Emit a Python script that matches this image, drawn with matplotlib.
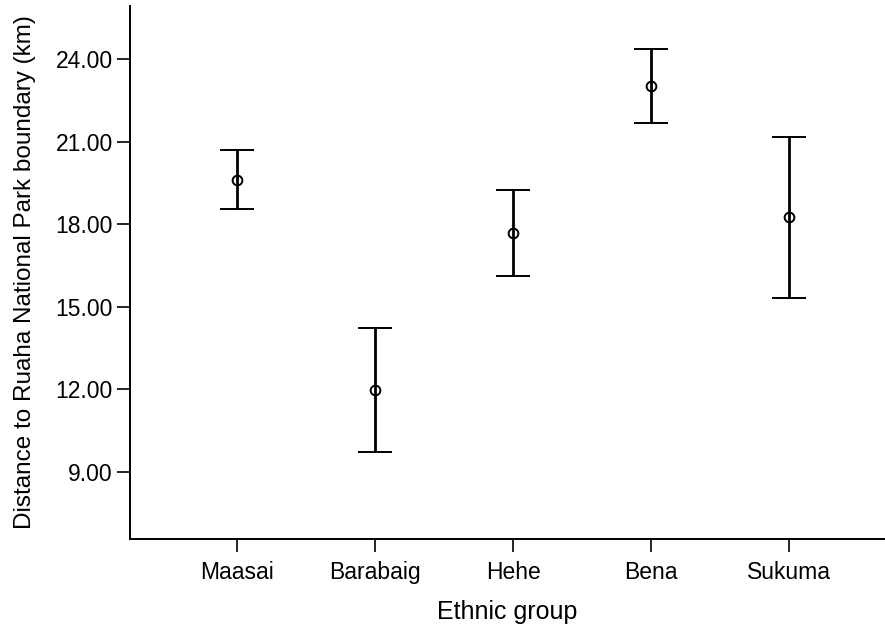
import numpy as np
import matplotlib.pyplot as plt

plt.rcParams['font.family'] = ['Liberation Sans', 'DejaVu Sans']

# group means with lower / upper interval limits (km)
groups = ['Maasai', 'Barabaig', 'Hehe', 'Bena', 'Sukuma']
means = [19.61, 11.96, 17.69, 23.03, 18.27]
lower = [18.56, 9.71, 16.12, 21.68, 15.33]
upper = [20.69, 14.22, 19.23, 24.39, 21.16]
yticks = [9, 12, 15, 18, 21, 24]

x = np.arange(1, len(groups) + 1)
means = np.array(means)
err = [means - np.array(lower), np.array(upper) - means]

fig = plt.figure(figsize=(8.85, 6.26), dpi=100)
ax = fig.add_axes([0.1469, 0.1385, 0.8531, 0.8524])

ax.errorbar(x, means, yerr=err, fmt='o', color='black', ecolor='black',
            elinewidth=2.0, capsize=12.5, capthick=2.0,
            markersize=7, markerfacecolor='none', markeredgewidth=1.4)

ax.set_xlim(0.22, 5.70)
ax.set_ylim(6.54, 25.95)
ax.set_xticks(x)
ax.set_xticklabels(groups)
ax.set_yticks(yticks)
ax.set_yticklabels(['%.2f' % v for v in yticks])

for s in ['top', 'right']:
    ax.spines[s].set_visible(False)
for s in ['left', 'bottom']:
    ax.spines[s].set_linewidth(1.4)

ax.tick_params(axis='both', length=9.5, width=1.2, labelsize=16.5, pad=3)
ax.tick_params(axis='x', pad=6)
ax.set_xlabel('Ethnic group', fontsize=18, labelpad=12)
ax.set_ylabel('Distance to Ruaha National Park boundary (km)', fontsize=17.5, labelpad=14)

fig.savefig('out.png', dpi=100)
